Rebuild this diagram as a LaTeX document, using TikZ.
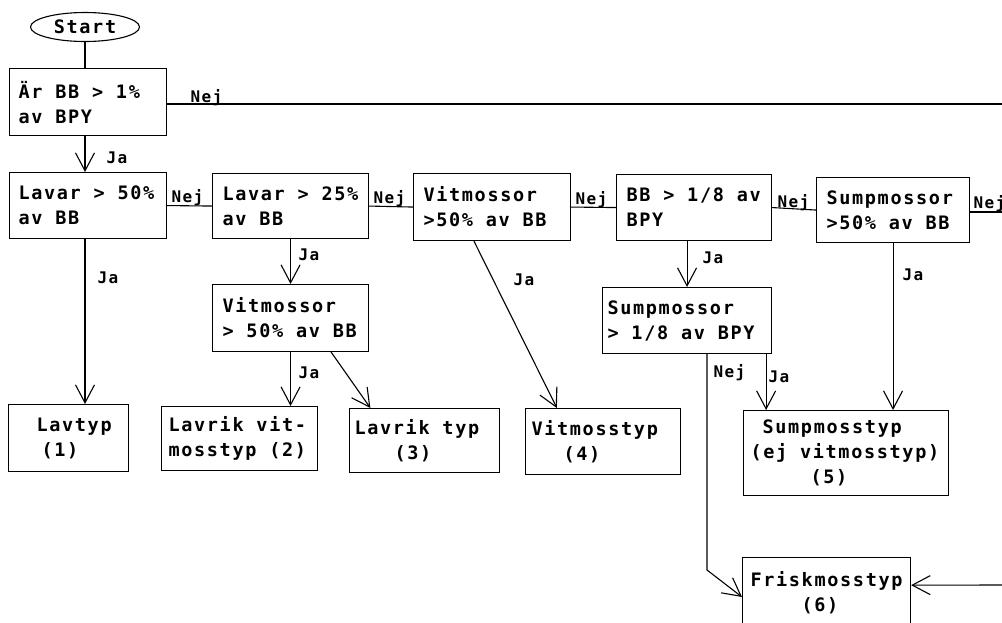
\documentclass[tikz,border=0pt]{standalone}
\usepackage{fontspec}
\newfontfamily\boxfont[LetterSpace=9]{DejaVu Sans Mono}
\usetikzlibrary{shapes.geometric, arrows.meta}

% one typewriter cell
\newcommand{\cell}{\hspace*{12.8pt}}

\tikzset{
  cond/.style={draw, anchor=north west, align=left, inner ysep=0pt,
    font=\boxfont\bfseries\fontsize{18.5}{25}\selectfont},
  leaf/.style={cond},
  startnode/.style={draw, ellipse, inner sep=0pt, minimum width=109pt,
    minimum height=29pt, font=\boxfont\bfseries\fontsize{18.5}{25}\selectfont},
  lab/.style={anchor=base west, inner sep=0pt,
    font=\boxfont\bfseries\fontsize{16}{19}\selectfont},
  arr/.style={-{Straight Barb[length=18pt, width=19pt]}}
}

\begin{document}
\begin{tikzpicture}[x=1pt, y=-1pt, line width=1.1pt]
  \useasboundingbox (0,0) rectangle (1002,622);

  % start and the questions
  \node[startnode] (start) at (85,27) {Start};
  \node[cond, text width=139pt, minimum height=67pt, inner xsep=9pt] (q1) at (9,68) {Är\cell BB\cell>\cell1\%\\av\cell BPY};
  \node[cond, text width=139pt, minimum height=66pt, inner xsep=9pt] (q2) at (9,172) {Lavar\cell>\cell50\%\\av\cell BB};
  \node[cond, text width=136pt, minimum height=65pt, inner xsep=10pt] (q3) at (212,173) {Lavar\cell>\cell25\%\\av\cell BB};
  \node[cond, text width=137pt, minimum height=67pt, inner xsep=10pt] (q4) at (413,173) {Vitmossor\\>50\%\cell av\cell BB};
  \node[cond, text width=136pt, minimum height=67pt, inner xsep=10pt] (q5) at (212,284) {Vitmossor\\>\cell50\%\cell av\cell BB};
  \node[cond, text width=135pt, minimum height=66pt, inner xsep=10pt] (q6) at (616,174) {BB\cell>\cell1/8\cell av\\BPY};
  \node[cond, text width=133pt, minimum height=65pt, inner xsep=10pt] (q7) at (816,177) {Sumpmossor\\>50\%\cell av\cell BB};
  \node[cond, text width=159pt, minimum height=66pt, inner xsep=5pt] (q8) at (602,287) {Sumpmossor\\>\cell1/8\cell av\cell BPY};

  % the types
  \node[leaf, text width=64pt, minimum height=67pt, inner xsep=28pt] (r1) at (8,404) {Lavtyp\\\hspace*{5pt}(1)};
  \node[leaf, text width=142pt, minimum height=64pt, inner xsep=7pt] (r2) at (161,406) {Lavrik\cell vit-\\mosstyp\cell(2)};
  \node[leaf, text width=140pt, minimum height=64pt, inner xsep=5pt] (r3) at (349,408) {Lavrik\cell typ\\\hspace*{40pt}(3)};
  \node[leaf, text width=143pt, minimum height=66pt, inner xsep=6pt] (r4) at (525,408) {Vitmosstyp\\\hspace*{32pt}(4)};
  \node[leaf, text width=191pt, minimum height=85pt, inner xsep=7pt] (r5) at (743,410) {\hspace*{12pt}Sumpmosstyp\\(ej\cell vitmosstyp)\\\hspace*{60pt}(5)};
  \node[leaf, text width=152pt, minimum height=70pt, inner xsep=8pt] (r6) at (742,557) {Friskmosstyp\\\hspace*{51pt}(6)};

  % labels
  \node[lab] (nej1) at (190,102) {Nej};
  \node[lab] (ja1) at (106,163) {Ja};
  \node[lab] (nej2) at (171,202) {Nej};
  \node[lab] (nej3) at (373,203) {Nej};
  \node[lab] (nej4) at (575,204) {Nej};
  \node[lab] (nej5) at (777,207) {Nej};
  \node[lab] (nej6) at (973,208) {Nej};
  \node[lab] (ja2) at (97,283) {Ja};
  \node[lab] (ja3) at (298,260) {Ja};
  \node[lab] (ja4) at (298,378) {Ja};
  \node[lab] (ja5) at (513,285) {Ja};
  \node[lab] (ja6) at (702,263) {Ja};
  \node[lab] (ja7) at (902,280) {Ja};
  \node[lab] (nej7) at (713,377) {Nej};
  \node[lab] (ja8) at (768,382) {Ja};

  % connectors
  \coordinate (edge1) at (1010,104);
  \coordinate (edge2) at (1010,212);
  \coordinate (edge3) at (1004,585);
  \coordinate (bend) at (707,570);

  \draw (start.south) -- (start.south |- q1.north);
  \draw[arr] (start.south |- q1.south) -- (start.south |- q2.north);
  \draw (q1.east |- edge1) -- (edge1);
  \draw (q2.east) -- (q3.west);
  \draw (q3.east) -- (q4.west);
  \draw (q4.east) -- (q6.west);
  \draw (q6.east) -- (q7.west);
  \draw (q7.east |- edge2) -- (edge2);
  \draw[arr] (start.south |- q2.south) -- (start.south |- r1.north);
  \draw[arr] (q3.south) -- (q5.north);
  \draw[arr] (q5.south) -- (q5.south |- r2.north);
  \draw[arr] (q5.-40) -- (r3.149);
  \draw[arr] (q4.242) -- (r4.144);
  \draw[arr] (q8.north |- q6.south) -- (q8.north);
  \draw[arr] (q8.-23.6) -- (q8.-23.6 |- r5.north);
  \draw[arr] (q8.south -| bend) -- (bend) -- (r6.183);
  \draw[arr] (q7.south) -- (q7.south |- r5.north);
  \draw[arr] (edge3) -- (r6.5);
\end{tikzpicture}
\end{document}
